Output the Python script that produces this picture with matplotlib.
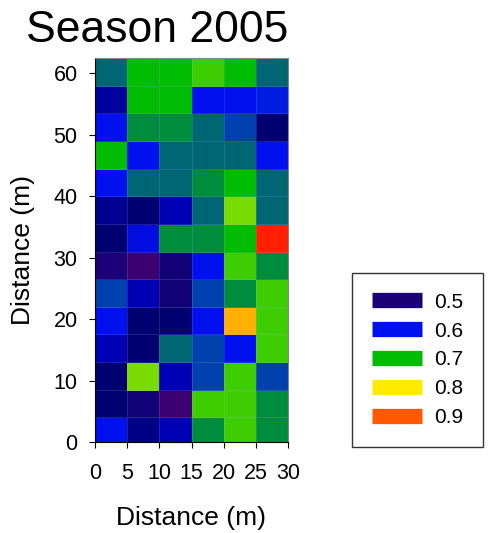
import numpy as np
import matplotlib
matplotlib.use("Agg")
import matplotlib.pyplot as plt
from matplotlib.colors import LinearSegmentedColormap, Normalize
from matplotlib.lines import Line2D

plt.rcParams['font.family'] = ['Liberation Sans', 'DejaVu Sans']

# cell values, rows listed top (60 m) to bottom (0 m), columns 0-30 m
values = [
    [0.64, 0.70, 0.70, 0.73, 0.70, 0.64],
    [0.55, 0.70, 0.70, 0.60, 0.60, 0.605],
    [0.60, 0.67, 0.67, 0.64, 0.62, 0.53],
    [0.70, 0.60, 0.64, 0.64, 0.64, 0.60],
    [0.60, 0.64, 0.64, 0.67, 0.70, 0.64],
    [0.545, 0.53, 0.56, 0.64, 0.76, 0.64],
    [0.53, 0.59, 0.67, 0.67, 0.70, 0.95],
    [0.50, 0.47, 0.51, 0.60, 0.73, 0.67],
    [0.62, 0.56, 0.51, 0.62, 0.67, 0.73],
    [0.60, 0.53, 0.53, 0.60, 0.84, 0.73],
    [0.56, 0.53, 0.64, 0.62, 0.60, 0.73],
    [0.53, 0.76, 0.56, 0.62, 0.73, 0.62],
    [0.53, 0.51, 0.47, 0.73, 0.73, 0.67],
    [0.60, 0.54, 0.56, 0.67, 0.73, 0.67],
]
cell_w = 5.0
cell_h = 4.5
legend_levels = [0.5, 0.6, 0.7, 0.8, 0.9]

# colour scale: purple -> indigo -> navy -> blue -> teal -> green -> yellow -> red
vmin, vmax = 0.45, 0.95
nodes = [
    (0.45, (80, 0, 110)),
    (0.50, (26, 0, 120)),
    (0.53, (0, 0, 112)),
    (0.56, (0, 0, 180)),
    (0.60, (0, 16, 240)),
    (0.62, (0, 64, 176)),
    (0.64, (0, 102, 115)),
    (0.67, (0, 140, 60)),
    (0.70, (0, 190, 0)),
    (0.73, (60, 205, 0)),
    (0.76, (120, 220, 0)),
    (0.80, (255, 235, 0)),
    (0.84, (255, 176, 0)),
    (0.90, (255, 90, 0)),
    (0.95, (255, 32, 0)),
]
cmap = LinearSegmentedColormap.from_list(
    "season", [((v - vmin) / (vmax - vmin), tuple(c / 255 for c in rgb)) for v, rgb in nodes])
norm = Normalize(vmin, vmax)

data = np.flipud(np.array(values))
nrows, ncols = data.shape
xedges = np.arange(ncols + 1) * cell_w
yedges = np.arange(nrows + 1) * cell_h - 0.5

fig = plt.figure(figsize=(4.9, 5.33), dpi=100)
ax = fig.add_axes([95 / 490, 91 / 533, 193 / 490, 384 / 533])
ax.pcolormesh(xedges, yedges, data, cmap=cmap, norm=norm,
              edgecolors=(0.7, 0.7, 1.0, 0.18), linewidth=0.7)
ax.set_xlim(0, 30)
ax.set_ylim(0, 62.5)
ax.set_xticks(np.arange(0, 31, 5))
ax.set_yticks(np.arange(0, 61, 10))
ax.tick_params(labelsize=15.5, length=4, direction='out')
ax.tick_params(axis='x', pad=11)
ax.tick_params(axis='y', pad=8.5)
ax.set_xlabel("Distance (m)", fontsize=19, labelpad=16)
ax.set_ylabel("Distance (m)", fontsize=19, labelpad=13)
for s in ['top', 'right']:
    ax.spines[s].set_color('#888888')

fig.text(157 / 490, 1 - 30 / 533, "Season 2005", fontsize=32, ha='center', va='center')

handles = [Line2D([0], [0], color=cmap(norm(v)), lw=11, solid_capstyle='butt') for v in legend_levels]
leg = fig.legend(handles, [str(v) for v in legend_levels], loc='upper left',
                 bbox_to_anchor=(352 / 490, 1 - 273 / 533), fontsize=15,
                 fancybox=False, edgecolor='black', handlelength=2.4,
                 labelspacing=0.47, borderpad=0.95, handletextpad=0.6, borderaxespad=0)
leg.get_frame().set_linewidth(1.0)

fig.savefig("out.png", dpi=100)
